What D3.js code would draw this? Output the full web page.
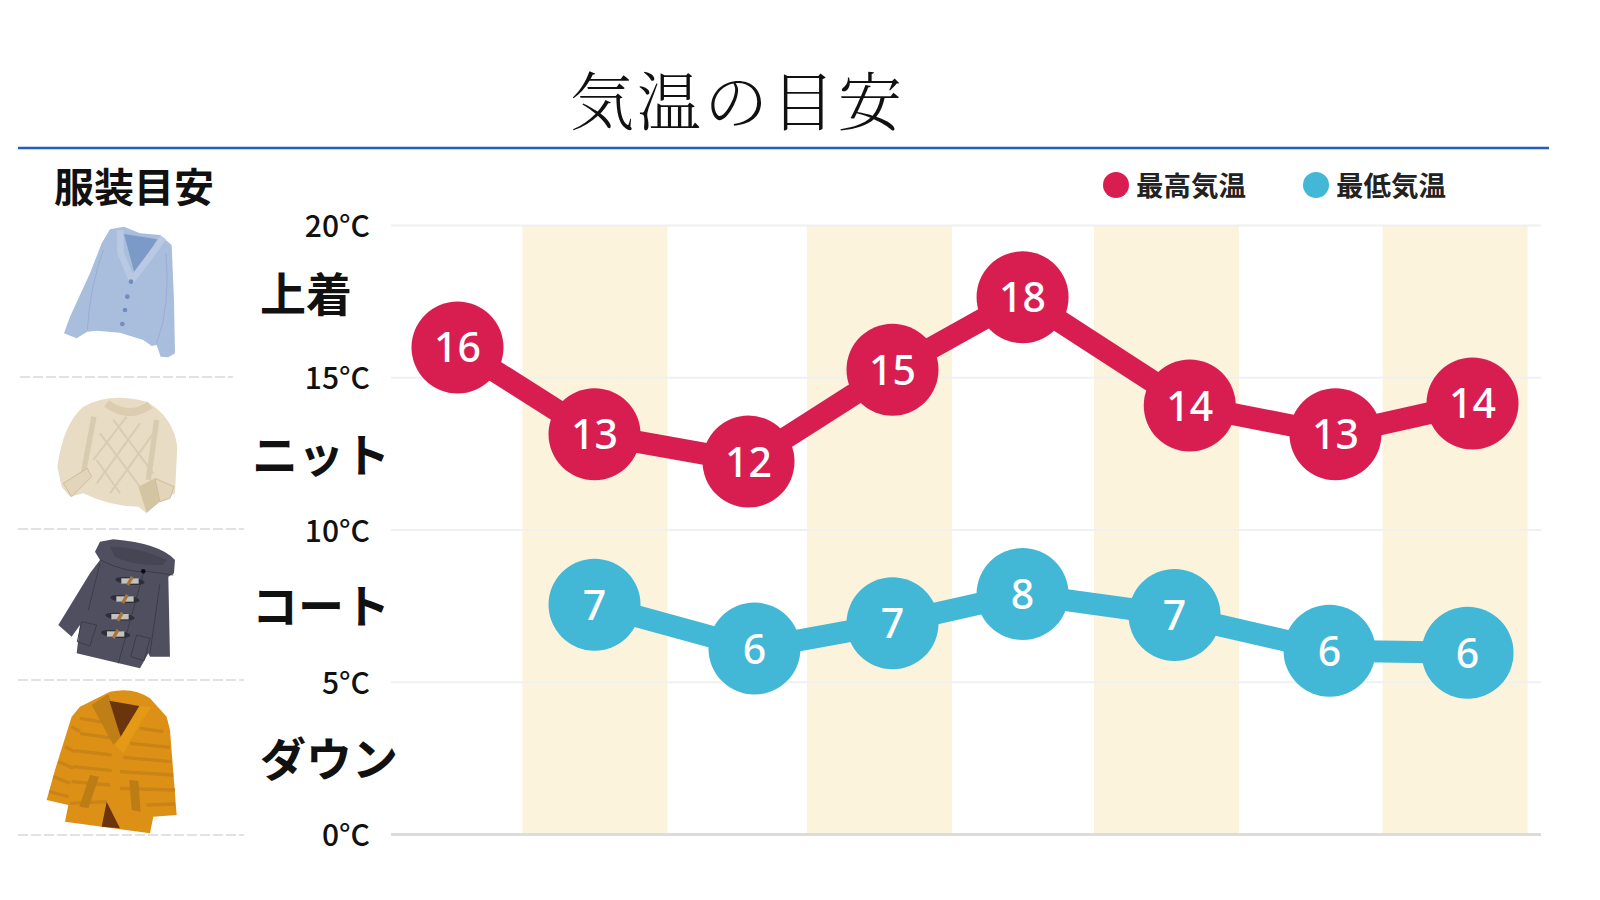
<!DOCTYPE html>
<html lang="ja">
<head>
<meta charset="utf-8">
<script src="https://cdn.jsdelivr.net/npm/d3@7"></script>
<style>
  html, body { margin: 0; background: #fff; }
  svg { display: block; font-family: "Noto Sans CJK JP", sans-serif; }
</style>
</head>
<body>
<svg id="canvas" width="1600" height="900"></svg>
<script>
const svg = d3.select('#canvas')

const chartTitle = '気温の目安'
const clothesTitle = '服装目安'
const clothesLabels = ['上着', 'ニット', 'コート', 'ダウン']
const temperatureTicks = [0, 5, 10, 15, 20]
const seriesNames = ['最高気温', '最低気温']

// x in day steps, the points do not sit on an even grid
const highDays = [0, 0.945, 2.007, 3, 3.897, 5.05, 6.055, 7]
const highHeights = [15.98, 13.13, 12.23, 15.25, 17.63, 14.07, 13.13, 14.14]
const highLabels = [16, 13, 12, 15, 18, 14, 13, 14]
const lowDays = [0.945, 2.048, 3, 3.897, 4.945, 6.014, 6.966]
const lowHeights = [7.53, 6.09, 6.92, 7.88, 7.19, 6.02, 5.95]
const lowLabels = [7, 6, 7, 8, 7, 6, 6]
const bandStarts = [0.448, 2.41, 4.39, 6.38]

const red = '#d81e50'
const blue = '#42b8d6'
const ink = '#111'

const xScale = d3.scaleLinear().domain([0, 7]).range([457.5, 1472.5])
const yScale = d3.scaleLinear().domain([0, 20]).range([834, 225])

// title and the blue rule under it
svg.append('text')
    .attr('x', 570).attr('y', 125)
    .attr('font-family', '"Noto Serif CJK JP", "Noto Sans CJK JP", serif')
    .attr('font-size', 64).attr('font-weight', 300)
    .attr('letter-spacing', 3)
    .attr('fill', ink)
    .text(chartTitle)
svg.append('line')
    .attr('x1', 18).attr('x2', 1549).attr('y1', 148).attr('y2', 148)
    .attr('stroke', '#1f5fc4').attr('stroke-width', 2.5)

// background bands
svg.append('g').selectAll('rect')
    .data(bandStarts)
    .enter()
    .append('rect')
        .attr('x', d => xScale(d))
        .attr('width', d => xScale(d + 1) - xScale(d))
        .attr('y', yScale(20))
        .attr('height', yScale(0) - yScale(20))
        .attr('fill', '#fbf3dc')

// temperature axis with gridlines
const axis = svg.append('g')
    .attr('transform', 'translate(391, 0)')
    .call(d3.axisLeft(yScale)
        .tickValues(temperatureTicks)
        .tickSize(-1150)
        .tickPadding(21)
        .tickFormat(d => `${d}°C`))
axis.select('.domain').remove()
axis.selectAll('line')
    .attr('stroke', d => d === 0 ? '#dcdcdc' : '#f0f0f0')
    .attr('stroke-width', d => d === 0 ? 3 : 2)
axis.selectAll('text')
    .attr('dy', '0.39em')
    .attr('font-family', '"Noto Sans CJK JP", sans-serif')
    .attr('font-size', 30)
    .attr('font-weight', 500)
    .attr('fill', ink)

// draws one line with its numbered circles
const drawSeries = (days, heights, labels, color) => {
    const points = days.map((d, i) => ({ day: d, height: heights[i], label: labels[i] }))
    const line = d3.line().x(d => xScale(d.day)).y(d => yScale(d.height))
    const g = svg.append('g')
    g.append('path')
        .attr('d', line(points))
        .attr('fill', 'none')
        .attr('stroke', color)
        .attr('stroke-width', 22)
    g.selectAll('circle')
        .data(points)
        .enter()
        .append('circle')
            .attr('cx', d => xScale(d.day))
            .attr('cy', d => yScale(d.height))
            .attr('r', 46)
            .attr('fill', color)
    g.selectAll('text')
        .data(points)
        .enter()
        .append('text')
            .attr('x', d => xScale(d.day))
            .attr('y', d => yScale(d.height) + 15)
            .attr('text-anchor', 'middle')
            .attr('font-family', '"Noto Sans", sans-serif')
            .attr('font-size', 41)
            .attr('font-weight', 500)
            .attr('fill', '#fff')
            .text(d => d.label)
}
drawSeries(highDays, highHeights, highLabels, red)
drawSeries(lowDays, lowHeights, lowLabels, blue)

// legend
const legend = svg.append('g').selectAll('g')
    .data(seriesNames)
    .enter()
    .append('g')
        .attr('transform', (d, i) => `translate(${1116 + i * 200}, 185)`)
legend.append('circle')
    .attr('r', 13)
    .attr('fill', (d, i) => i === 0 ? red : blue)
legend.append('text')
    .attr('x', 20).attr('y', 11)
    .attr('font-size', 27.5).attr('font-weight', 700)
    .attr('fill', '#222')
    .text(d => d)

// left column text
svg.append('text')
    .attr('x', 54).attr('y', 202)
    .attr('font-size', 40).attr('font-weight', 700)
    .attr('fill', ink)
    .text(clothesTitle)
const labelX = [260, 252, 252, 260]
const labelY = [311, 472, 623, 776]
svg.append('g').selectAll('text')
    .data(clothesLabels)
    .enter()
    .append('text')
        .attr('x', (d, i) => labelX[i])
        .attr('y', (d, i) => labelY[i])
        .attr('font-size', 46).attr('font-weight', 700)
        .attr('fill', ink)
        .text(d => d)

// dashed separators between the clothes
const separators = [[20, 233, 377], [18, 244, 529], [18, 244, 680], [18, 244, 835]]
svg.append('g').selectAll('line')
    .data(separators)
    .enter()
    .append('line')
        .attr('x1', d => d[0]).attr('x2', d => d[1])
        .attr('y1', d => d[2]).attr('y2', d => d[2])
        .attr('stroke', '#e2e2e2').attr('stroke-width', 2)
        .attr('stroke-dasharray', '10 3')

// clothes illustrations, traced by hand at 3x so they are scaled back down
const defs = svg.append('defs')
defs.append('filter').attr('id', 'soft')
    .append('feGaussianBlur').attr('stdDeviation', 2)

const addShape = (g, d, fill, stroke, width) => g.append('path')
    .attr('d', d)
    .attr('fill', fill || 'none')
    .attr('stroke', stroke || 'none')
    .attr('stroke-width', width || 0)
    .attr('stroke-linejoin', 'round')

const cardigan = svg.append('g').attr('transform', 'translate(0, 140) scale(0.3333)').attr('filter', 'url(#soft)')
addShape(cardigan, 'M330,268 L372,260 L420,280 L480,285 L515,315 L522,480 L525,640 L505,652 L482,650 L470,615 L455,618 L430,600 L360,578 L290,572 L262,575 L230,595 L192,580 L210,530 L270,400 L305,310 Z', '#a9bddd')
addShape(cardigan, 'M372,282 L472,298 L405,405 Z', '#7c9ac8')
addShape(cardigan, 'M360,270 L362,340 L396,420 L470,322 L490,292', null, '#b9c9e3', 20)
addShape(cardigan, 'M310,330 Q270,440 262,570 M498,340 Q512,500 470,610', null, '#98aed3', 3)
cardigan.selectAll('circle')
    .data([[393, 425], [382, 470], [375, 510], [367, 552]])
    .enter()
    .append('circle')
        .attr('cx', d => d[0]).attr('cy', d => d[1]).attr('r', 7)
        .attr('fill', '#6f8dc0')

const sweater = svg.append('g').attr('transform', 'translate(0, 140) scale(0.3333)').attr('filter', 'url(#soft)')
addShape(sweater, 'M250,800 Q330,755 440,785 Q520,830 532,920 L525,1060 L470,1090 L440,1120 L415,1100 Q330,1100 250,1060 L210,1070 L185,1040 L172,980 Q190,850 250,800 Z', '#e8dcc5')
addShape(sweater, 'M282,830 L250,1000 M470,840 L445,1020', null, '#d8cbb0', 16)
addShape(sweater, 'M320,790 Q385,840 450,795', null, '#dccdb0', 24)
addShape(sweater, 'M300,880 L420,1040 M340,840 L460,1000 M290,960 L360,1060 M460,880 L330,1060 M420,850 L290,1030 M380,830 L280,960', null, '#d9ccb3', 6)
addShape(sweater, 'M190,1030 L262,985 L275,1010 L215,1070 Z', '#e2d5bb', '#cdbd9c', 3)
addShape(sweater, 'M415,1040 L465,1015 L480,1085 L440,1118 Z', '#d3c4a2')
addShape(sweater, 'M465,1015 L522,1040 L510,1075 L480,1085 Z', '#e2d5bb', '#cdbd9c', 3)

const duffle = svg.append('g').attr('transform', 'translate(0, 510) scale(0.3333)').attr('filter', 'url(#soft)')
addShape(duffle, 'M300,150 L270,190 L175,345 L215,380 L240,345 L230,430 L420,475 L445,430 L450,440 L510,440 L505,200 L522,190 L525,150 Q480,100 340,88 L300,95 L285,125 Z', '#50505f')
addShape(duffle, 'M330,110 Q420,110 500,150 L490,165 Q400,168 345,140 Z', '#444452')
addShape(duffle, 'M300,150 Q380,190 450,185 L520,195 M430,190 L355,460 M480,220 L450,430 M300,160 L265,300', null, '#3b3b48', 3)
addShape(duffle, 'M245,335 L290,345 L270,408 L232,395 Z M410,375 L450,385 L432,452 L392,440 Z', null, '#3b3b48', 3)
duffle.append('circle').attr('cx', 430).attr('cy', 184).attr('r', 7).attr('fill', '#111')
const toggleRows = [[390, 213], [375, 267], [360, 320], [347, 372]]
toggleRows.forEach(([cx, cy]) => {
    duffle.append('ellipse').attr('cx', cx).attr('cy', cy).attr('rx', 44).attr('ry', 11)
        .attr('transform', `rotate(6 ${cx} ${cy})`).attr('fill', '#2f2f3a')
    duffle.append('rect').attr('x', cx - 26).attr('y', cy - 8).attr('width', 52).attr('height', 16)
        .attr('fill', '#c4c2bf')
    duffle.append('rect').attr('x', cx - 5).attr('y', cy - 14).attr('width', 10).attr('height', 28)
        .attr('transform', `rotate(30 ${cx} ${cy})`).attr('fill', '#a9743c')
})

const down = svg.append('g').attr('transform', 'translate(0, 510) scale(0.3333)').attr('filter', 'url(#soft)')
addShape(down, 'M330,545 Q400,530 450,565 L500,620 L510,660 L530,915 L460,920 L450,970 L195,935 L205,885 L140,870 L165,780 L215,620 L240,590 Z', '#dd9014')
addShape(down, 'M240,625 L330,640 M240,670 L340,685 M225,722 L335,735 M220,770 L335,782 M215,815 L330,825 M210,880 L320,875 M420,655 L490,665 M390,700 L510,712 M370,742 L515,755 M360,785 L520,795 M360,835 L525,840 M440,885 L525,882 M215,650 L240,665 M195,710 L225,725 M175,755 L220,775 M160,800 L210,820 M148,845 L205,860', null, '#c98314', 10)
addShape(down, 'M275,585 L325,552 L362,680 L340,705 Z', '#bf7f14')
addShape(down, 'M418,588 L362,680 L345,705 L370,730 L420,640 L455,590 Z', '#e59a18')
addShape(down, 'M328,572 L418,588 L362,680 Z', '#6a3510')
addShape(down, 'M320,875 L305,950 L360,955 Z', '#6a3510')
addShape(down, 'M270,795 L297,800 L265,895 L238,890 Z M388,810 L415,812 L422,905 L395,900 Z', '#bd7c14')
</script>
</body>
</html>
